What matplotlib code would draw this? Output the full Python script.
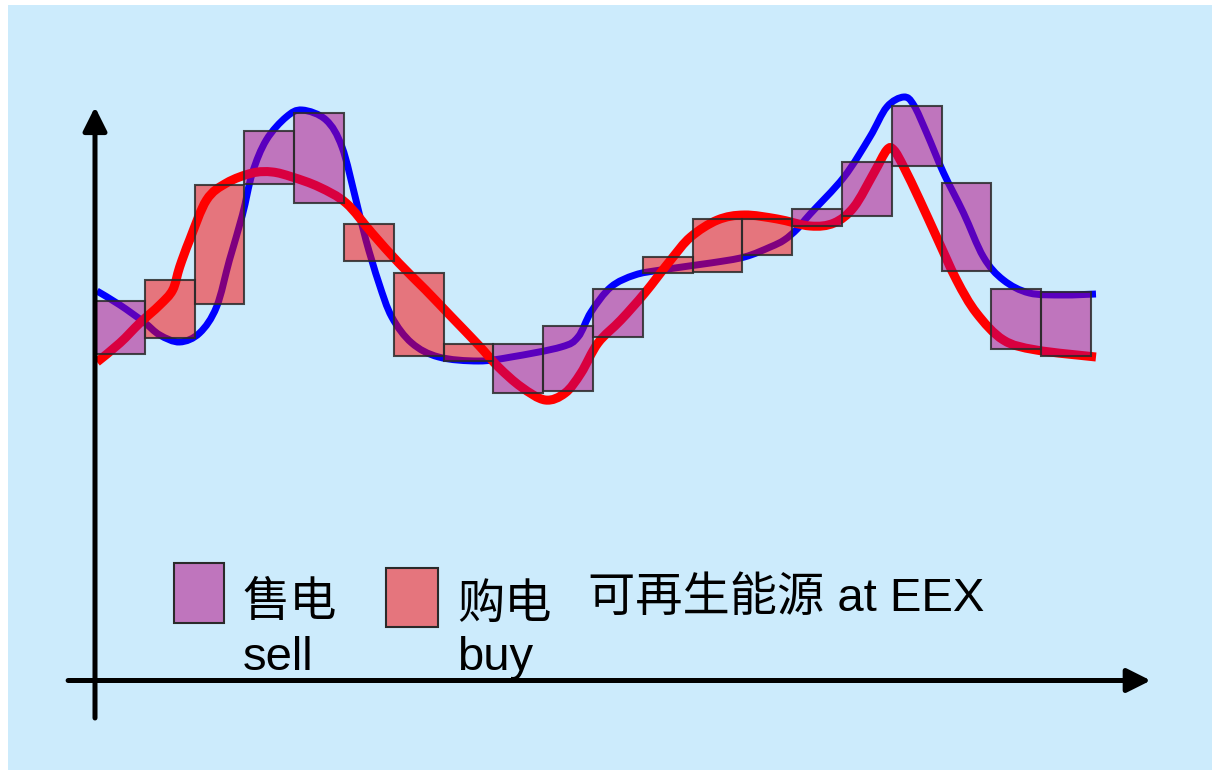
import matplotlib
matplotlib.use("Agg")
import matplotlib.pyplot as plt
from matplotlib.patches import Rectangle, PathPatch
from matplotlib.path import Path

plt.rcParams['font.family'] = ['Liberation Sans', 'Noto Sans CJK SC', 'DejaVu Sans']

# ---- data (x = time slot, y = price units) ----
blue_x = [0.04, 0.5, 0.98, 1.3, 1.7, 2.1, 2.44, 2.7, 2.96, 3.16, 3.44, 3.84, 4.16, 4.64,
          4.96, 5.24, 5.44, 5.7, 5.96, 6.36, 6.9, 7.7, 8.36, 9.36, 9.7, 9.96, 10.36, 10.84,
          11.36, 12.36, 13.04, 13.56, 13.84, 14.1, 14.36, 15.04, 15.56, 15.9, 16.24, 16.44,
          16.7, 17.04, 17.44, 17.84, 18.24, 18.76, 19.44, 20.1]
blue_y = [39.2, 37.8, 36.1, 34.8, 34.1, 35.0, 37.6, 42.3, 46.8, 51.0, 54.3, 56.6, 57.3, 56.3,
          53.6, 48.3, 44.3, 40.0, 36.6, 34.0, 32.6, 32.2, 32.6, 33.6, 34.6, 37.1, 39.6, 40.8,
          41.3, 42.0, 42.6, 43.6, 44.3, 45.4, 46.9, 50.6, 54.6, 57.6, 58.6, 57.8,
          55.0, 51.0, 47.0, 42.6, 40.3, 39.0, 38.8, 38.9]

red_x = [0.04, 0.5, 0.9, 1.3, 1.56, 1.7, 1.9, 2.24, 2.64, 3.16, 3.56, 3.96, 4.5, 5.04, 5.56,
         6.1, 6.64, 7.16, 7.7, 8.1, 8.56, 9.04, 9.44, 9.76, 10.1, 10.56, 11.04, 11.56, 11.96,
         12.5, 13.04, 13.7, 14.36, 14.84, 15.24, 15.64, 15.9, 16.04, 16.24, 16.56, 16.9,
         17.3, 17.7, 18.24, 18.9, 20.1]
red_y = [32.1, 34.0, 36.0, 37.8, 39.3, 41.6, 44.3, 48.3, 50.0, 51.0, 51.1, 50.6, 49.6, 48.0,
         45.0, 42.0, 39.3, 36.6, 33.8, 31.6, 29.6, 28.3, 29.0, 31.0, 34.0, 36.3, 39.0, 42.3,
         44.6, 46.3, 46.8, 46.4, 45.7, 46.0, 47.6, 51.0, 53.3, 53.3, 51.6, 48.3, 44.6,
         40.3, 37.0, 34.3, 33.3, 32.6]

bar_high = [38.2, 40.3, 49.8, 55.2, 57.0, 45.9, 41.0, 33.9, 33.9, 35.7, 39.4, 42.6, 46.4, 46.4,
            47.4, 52.1, 57.7, 50.0, 39.4, 39.1]
bar_low = [32.9, 34.5, 37.9, 49.9, 48.0, 42.2, 32.7, 32.2, 29.0, 29.2, 34.6, 41.0, 41.1, 42.8,
           45.7, 46.7, 51.7, 41.2, 33.4, 32.7]
bar_kind = ['sell', 'buy', 'buy', 'sell', 'sell', 'buy', 'buy', 'buy', 'sell', 'sell', 'sell',
            'buy', 'buy', 'buy', 'sell', 'sell', 'sell', 'sell', 'sell', 'sell']

kind_color = {'sell': '#B4007F', 'buy': '#FF0000'}
bg_color = '#CCEBFC'


def smooth_path(xs, ys):
    # Catmull-Rom through the read points, drawn as cubic Bezier segments
    pts = list(zip(xs, ys))
    verts = [pts[0]]
    codes = [Path.MOVETO]
    n = len(pts)
    for i in range(n - 1):
        p0 = pts[i - 1] if i > 0 else pts[i]
        p1, p2 = pts[i], pts[i + 1]
        p3 = pts[i + 2] if i + 2 < n else pts[i + 1]
        c1 = (p1[0] + (p2[0] - p0[0]) / 6, p1[1] + (p2[1] - p0[1]) / 6)
        c2 = (p2[0] - (p3[0] - p1[0]) / 6, p2[1] - (p3[1] - p1[1]) / 6)
        verts += [c1, c2, p2]
        codes += [Path.CURVE4] * 3
    return Path(verts, codes)


fig = plt.figure(figsize=(12.16, 7.74), dpi=100, facecolor='white')
ax = fig.add_axes([0, 0, 1, 1])
ax.set_xlim(-95 / 49.8, 1121 / 49.8)
ax.set_ylim(-9.1, 68.3)
ax.axis('off')

# light blue panel
ax.add_patch(Rectangle((8 / 1216, 4 / 774), 1204 / 1216, 765 / 774, transform=ax.transAxes,
                       facecolor=bg_color, edgecolor='none', zorder=0))

# price curves
ax.add_patch(PathPatch(smooth_path(blue_x, blue_y), facecolor='none', edgecolor='#0000FF',
                       lw=5, capstyle='butt', joinstyle='round', zorder=2))
ax.add_patch(PathPatch(smooth_path(red_x, red_y), facecolor='none', edgecolor='#FF0000',
                       lw=6.5, capstyle='butt', joinstyle='round', zorder=3))

# sell / buy blocks
for i, (hi, lo, kind) in enumerate(zip(bar_high, bar_low, bar_kind)):
    ax.bar(i, hi - lo, bottom=lo, width=1.0, align='edge',
           color=kind_color[kind], alpha=0.5, zorder=4)
    ax.bar(i, hi - lo, bottom=lo, width=1.0, align='edge',
           facecolor='none', edgecolor='#2a2a2a', lw=1.5, alpha=0.85, zorder=5)

# axes with arrow heads
arrow = dict(arrowstyle='-|>', color='black', lw=3.6, shrinkA=0, shrinkB=0,
             mutation_scale=36)
ax.annotate('', xy=(0, 57.6), xytext=(0, -3.5), arrowprops=arrow, zorder=6)
ax.annotate('', xy=(21.2, 0.25), xytext=(-0.54, 0.25), arrowprops=arrow, zorder=6)

# legend
ax.add_patch(Rectangle((1.586, 6.0), 1.0, 6.0, facecolor=kind_color['sell'], alpha=0.5,
                       edgecolor='none', zorder=4))
ax.add_patch(Rectangle((1.586, 6.0), 1.0, 6.0, facecolor='none', edgecolor='#2a2a2a',
                       lw=1.5, zorder=5))
ax.add_patch(Rectangle((5.84, 5.6), 1.04, 5.9, facecolor=kind_color['buy'], alpha=0.5,
                       edgecolor='none', zorder=4))
ax.add_patch(Rectangle((5.84, 5.6), 1.04, 5.9, facecolor='none', edgecolor='#2a2a2a',
                       lw=1.5, zorder=5))

fs = 34
ax.text(2.97, 6.7, '售电', fontsize=fs, va='baseline', ha='left')
ax.text(2.97, 1.3, 'sell', fontsize=fs, va='baseline', ha='left')
ax.text(7.27, 6.5, '购电', fontsize=fs, va='baseline', ha='left')
ax.text(7.27, 1.3, 'buy', fontsize=fs, va='baseline', ha='left')
ax.text(9.9, 7.2, '可再生能源 at EEX', fontsize=fs, va='baseline', ha='left')

fig.savefig('out.png', dpi=100, facecolor='white')
